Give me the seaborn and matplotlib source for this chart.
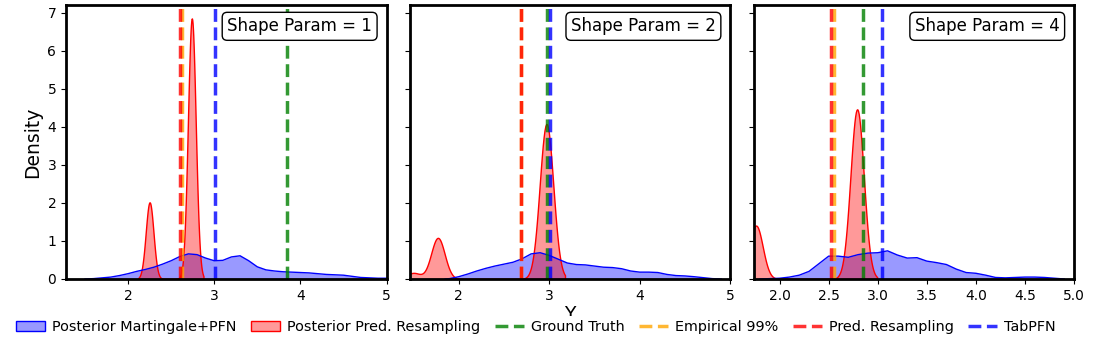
import numpy as np
import pandas as pd
import matplotlib
matplotlib.use("Agg")
import matplotlib.pyplot as plt
import seaborn as sns
from matplotlib.patches import Patch
from matplotlib.lines import Line2D

# ---------------- data ----------------
shape_params = [1, 2, 4]

# Posterior Martingale+PFN density curves (x, density)
blue_x_1 = [1.5, 1.6, 1.7, 1.8, 1.9, 2.0, 2.1, 2.2, 2.3, 2.4, 2.5, 2.6, 2.7, 2.8, 2.9,
            3.0, 3.1, 3.2, 3.3, 3.4, 3.5, 3.6, 3.7, 3.8, 3.9, 4.0, 4.1, 4.2, 4.3, 4.4,
            4.5, 4.6, 4.7, 4.8, 4.9, 5.0]
blue_y_1 = [0.0, 0.01, 0.03, 0.05, 0.09, 0.14, 0.20, 0.25, 0.31, 0.39, 0.48, 0.59, 0.66, 0.64, 0.55,
            0.48, 0.49, 0.58, 0.61, 0.48, 0.32, 0.24, 0.21, 0.19, 0.18, 0.17, 0.16, 0.14, 0.12, 0.11,
            0.10, 0.07, 0.04, 0.03, 0.02, 0.02]

blue_x_2 = [1.85, 1.9, 2.0, 2.1, 2.2, 2.3, 2.4, 2.5, 2.6, 2.7, 2.8, 2.9, 3.0, 3.1, 3.2,
            3.3, 3.4, 3.5, 3.6, 3.7, 3.8, 3.9, 4.0, 4.1, 4.2, 4.3, 4.4, 4.5, 4.6, 4.7,
            4.8, 4.9]
blue_y_2 = [0.0, 0.01, 0.06, 0.13, 0.21, 0.28, 0.34, 0.39, 0.44, 0.53, 0.66, 0.69, 0.62, 0.52, 0.42,
            0.38, 0.37, 0.34, 0.31, 0.30, 0.27, 0.21, 0.18, 0.18, 0.17, 0.12, 0.09, 0.08, 0.06, 0.035,
            0.01, 0.0]

blue_x_3 = [1.8, 1.9, 2.0, 2.1, 2.2, 2.3, 2.4, 2.5, 2.6, 2.7, 2.8, 2.9, 3.0, 3.1, 3.2,
            3.3, 3.4, 3.5, 3.6, 3.7, 3.8, 3.9, 4.0, 4.1, 4.2, 4.3, 4.4, 4.5, 4.6, 4.7,
            4.8, 4.9]
blue_y_3 = [0.0, 0.01, 0.02, 0.05, 0.10, 0.20, 0.40, 0.60, 0.60, 0.57, 0.64, 0.68, 0.69, 0.74, 0.63,
            0.55, 0.56, 0.47, 0.43, 0.38, 0.26, 0.17, 0.15, 0.10, 0.04, 0.03, 0.04, 0.05, 0.05, 0.04,
            0.02, 0.0]

# Posterior Pred. Resampling: sample locations and their weights
red_samples_1 = [2.25, 2.74]
red_weights_1 = [0.228, 0.775]
red_samples_2 = [1.50, 1.77, 2.97]
red_weights_2 = [0.03, 0.203, 0.765]
red_samples_3 = [1.76, 2.79]
red_weights_3 = [0.24, 0.762]

# vertical reference values
ground_truth = [3.85, 2.975, 2.85]
empirical_99 = [2.63, 2.69, 2.555]
pred_resampling = [2.60, 2.692, 2.527]
tabpfn = [3.008, 3.01, 3.04]

xtick_values = [[2, 3, 4, 5], [2, 3, 4, 5], [2.0, 2.5, 3.0, 3.5, 4.0, 4.5, 5.0]]
ytick_values = [0, 1, 2, 3, 4, 5, 6, 7]

legend_labels = ["Posterior Martingale+PFN", "Posterior Pred. Resampling", "Ground Truth",
                 "Empirical 99%", "Pred. Resampling", "TabPFN"]

# ---------------- plot ----------------
blue_x = [blue_x_1, blue_x_2, blue_x_3]
blue_y = [blue_y_1, blue_y_2, blue_y_3]
red_s = [red_samples_1, red_samples_2, red_samples_3]
red_w = [red_weights_1, red_weights_2, red_weights_3]
red_bw = [0.045, 0.075, 0.068]
xlims = [(1.28, 5.0), (1.46, 5.0), (1.735, 5.0)]

plt.rcParams["font.family"] = ["DejaVu Sans"]
fig, axes = plt.subplots(1, 3, figsize=(11.1, 3.49), dpi=100, sharey=True)
fig.subplots_adjust(left=0.0595, right=0.9676, top=0.9857, bottom=0.2006, wspace=0.0727)

line_kw = dict(linestyle="--", linewidth=2.5, alpha=0.8)

for i, ax in enumerate(axes):
    # blue posterior
    sns.lineplot(x=blue_x[i], y=blue_y[i], color="blue", linewidth=1, ax=ax)
    ax.fill_between(blue_x[i], blue_y[i], color="blue", alpha=0.4, linewidth=0)
    # red posterior (KDE)
    df = pd.DataFrame({"y": red_s[i], "w": red_w[i]})
    sd = np.sqrt(np.cov(np.array(red_s[i]), aweights=np.array(red_w[i])))
    sns.kdeplot(data=df, x="y", weights="w", bw_method=red_bw[i] / sd, fill=True,
                color="red", alpha=0.4, linewidth=1, ax=ax)
    # reference lines
    ax.axvline(ground_truth[i], color="green", **line_kw)
    ax.axvline(empirical_99[i], color="orange", **line_kw)
    ax.axvline(pred_resampling[i], color="red", **line_kw)
    ax.axvline(tabpfn[i], color="blue", **line_kw)

    ax.set_xlim(*xlims[i])
    ax.set_xticks(xtick_values[i])
    ax.set_ylim(0, 7.2)
    ax.set_yticks(ytick_values)
    ax.tick_params(labelsize=10)
    for s in ax.spines.values():
        s.set_linewidth(2)
    ax.set_xlabel("Y" if i == 1 else "", fontsize=13.5, labelpad=2)
    ax.set_ylabel("Density" if i == 0 else "", fontsize=13.5)
    ax.text(0.955, 0.955, f"Shape Param = {shape_params[i]}", transform=ax.transAxes,
            ha="right", va="top", fontsize=12,
            bbox=dict(boxstyle="round,pad=0.3", facecolor="white", edgecolor="black"))

handles = [
    Patch(facecolor=(0, 0, 1, 0.4), edgecolor="blue", label=legend_labels[0]),
    Patch(facecolor=(1, 0, 0, 0.4), edgecolor="red", label=legend_labels[1]),
    Line2D([], [], color="green", label=legend_labels[2], **line_kw),
    Line2D([], [], color="orange", label=legend_labels[3], **line_kw),
    Line2D([], [], color="red", label=legend_labels[4], **line_kw),
    Line2D([], [], color="blue", label=legend_labels[5], **line_kw),
]
fig.legend(handles=handles, loc="center", bbox_to_anchor=(0.483, 0.063), ncol=6,
           fontsize=10.4, frameon=True, facecolor="white", edgecolor="none", framealpha=1,
           handletextpad=0.5, columnspacing=1.0, borderpad=0.3)

fig.savefig("out.png", dpi=100)
